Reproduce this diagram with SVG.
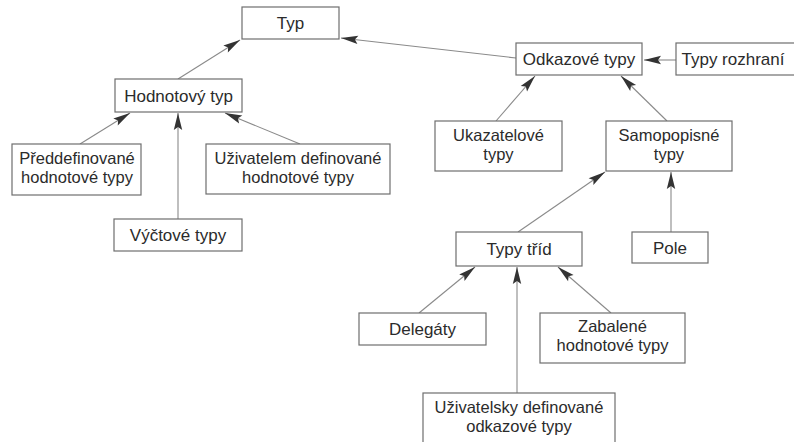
<svg xmlns="http://www.w3.org/2000/svg" width="794" height="442" viewBox="0 0 794 442">
<defs>
<style>
.box{fill:#fff;stroke:#6e6e6e;stroke-width:1.2}
.t{font-family:"Liberation Sans",Arial,sans-serif;font-size:17px;fill:#2b2b2b;text-anchor:middle}
.t2{font-size:16.5px}
.c{stroke:#8a8a8a;stroke-width:1.1;fill:none;marker-end:url(#ah)}
</style>
<marker id="ah" markerUnits="userSpaceOnUse" markerWidth="20" markerHeight="12" viewBox="-18 -6 20 12" refX="0" refY="0" orient="auto">
<path d="M0,0 L-17,-4.2 L-14,0 L-17,4.2 Z" fill="#333"/>
</marker>
</defs>
<rect width="794" height="442" fill="#fff"/>
<g id="connectors">
<line class="c" x1="178" y1="79" x2="240" y2="40"/>
<line class="c" x1="516" y1="58" x2="341" y2="38"/>
<line class="c" x1="80" y1="144" x2="130" y2="113"/>
<line class="c" x1="300" y1="144" x2="225" y2="113"/>
<line class="c" x1="178" y1="219" x2="178" y2="113"/>
<line class="c" x1="676" y1="60" x2="644" y2="60"/>
<line class="c" x1="496" y1="121" x2="535" y2="76"/>
<line class="c" x1="667" y1="121" x2="621" y2="76"/>
<line class="c" x1="518" y1="232" x2="605" y2="172"/>
<line class="c" x1="671" y1="232" x2="671" y2="172"/>
<line class="c" x1="419" y1="313" x2="475" y2="267"/>
<line class="c" x1="611" y1="313" x2="558" y2="267"/>
<line class="c" x1="517" y1="393" x2="517" y2="267"/>
</g>
<g id="typ"><rect class="box" x="242" y="7" width="97" height="32"/><text class="t" x="290.5" y="29">Typ</text></g>
<g id="hodnotovy"><rect class="box" x="115" y="79" width="127" height="33"/><text class="t" x="178.5" y="102">Hodnotový typ</text></g>
<g id="preddefinovane"><rect class="box" x="12" y="144" width="129" height="51"/><text class="t t2" y="164"><tspan x="77">Předdefinované</tspan><tspan x="77" dy="19">hodnotové typy</tspan></text></g>
<g id="uzivatelem"><rect class="box" x="206" y="144" width="184" height="50"/><text class="t t2" y="164"><tspan x="298">Uživatelem definované</tspan><tspan x="298" dy="19">hodnotové typy</tspan></text></g>
<g id="vyctove"><rect class="box" x="114" y="219" width="128" height="32"/><text class="t" x="178" y="241">Výčtové typy</text></g>
<g id="odkazove"><rect class="box" x="516" y="43" width="126" height="32"/><text class="t" x="579" y="65">Odkazové typy</text></g>
<g id="rozhrani"><rect class="box" x="676" y="43" width="130" height="32"/><text class="t" x="733" y="65">Typy rozhraní</text></g>
<g id="ukazatelove"><rect class="box" x="435" y="121" width="127" height="50"/><text class="t t2" y="141"><tspan x="498.5">Ukazatelové</tspan><tspan x="498.5" dy="19">typy</tspan></text></g>
<g id="samopopisne"><rect class="box" x="606" y="121" width="126" height="50"/><text class="t t2" y="141"><tspan x="669">Samopopisné</tspan><tspan x="669" dy="19">typy</tspan></text></g>
<g id="tridy"><rect class="box" x="456" y="232" width="126" height="34"/><text class="t" x="519" y="255">Typy tříd</text></g>
<g id="pole"><rect class="box" x="632" y="232" width="76" height="31"/><text class="t" x="670" y="254">Pole</text></g>
<g id="delegaty"><rect class="box" x="359" y="313" width="127" height="32"/><text class="t" x="422.5" y="335">Delegáty</text></g>
<g id="zabalene"><rect class="box" x="540" y="313" width="145" height="50"/><text class="t t2" y="332"><tspan x="612.5">Zabalené</tspan><tspan x="612.5" dy="19">hodnotové typy</tspan></text></g>
<g id="uzivatelsky"><rect class="box" x="423" y="393" width="192" height="60"/><text class="t t2" y="413"><tspan x="519">Uživatelsky definované</tspan><tspan x="519" dy="19">odkazové typy</tspan></text></g>
</svg>
